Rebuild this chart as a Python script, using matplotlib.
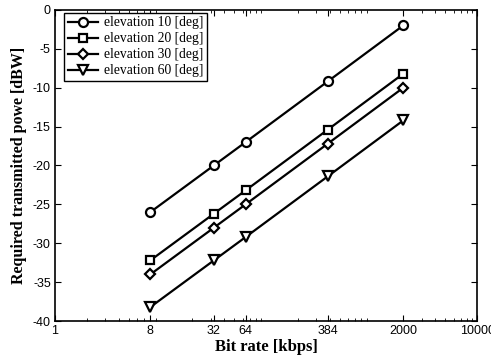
import matplotlib
matplotlib.use("Agg")
import matplotlib.pyplot as plt

# bit rates [kbps]
rates = [8, 32, 64, 384, 2000]

# required transmitted power [dBW] per elevation angle
elev10 = [-26.0, -20.0, -17.0, -9.2, -2.0]
elev20 = [-32.2, -26.2, -23.2, -15.4, -8.2]
elev30 = [-34.0, -28.0, -25.0, -17.2, -10.0]
elev60 = [-38.2, -32.2, -29.2, -21.4, -14.2]

xticks = [1, 8, 32, 64, 384, 2000, 10000]
yticks = [-40, -35, -30, -25, -20, -15, -10, -5, 0]

fig = plt.figure(figsize=(4.91, 3.62), dpi=100)
ax = fig.add_axes([0.112, 0.113, 0.86, 0.86])

series = [(elev10, "o", 6.5, "elevation 10 [deg]"),
          (elev20, "s", 5.5, "elevation 20 [deg]"),
          (elev30, "D", 5.0, "elevation 30 [deg]"),
          (elev60, "v", 7.0, "elevation 60 [deg]")]
for vals, mk, ms, lab in series:
    ax.plot(rates, vals, color="black", lw=1.6, marker=mk, ms=ms,
            mfc="white", mec="black", mew=1.6, label=lab)

ax.set_xscale("log")
ax.set_xlim(1, 10000)
ax.set_ylim(-40, 0)
ax.set_xticks(xticks)
ax.set_xticklabels([str(t) for t in xticks])
ax.set_yticks(yticks)
ax.set_yticklabels([str(t) for t in yticks])
ax.tick_params(which="both", direction="in", top=True, right=True,
               labelsize=9, labelfontfamily="Liberation Sans", pad=3)
ax.tick_params(which="major", length=4)
ax.tick_params(which="minor", length=2)
for s in ax.spines.values():
    s.set_linewidth(1.2)

ax.set_xlabel("Bit rate [kbps]", family="Liberation Serif", weight="bold",
              fontsize=12, labelpad=1)
ax.set_ylabel("Required transmitted powe [dBW]", family="Liberation Serif",
              weight="bold", fontsize=11.5, labelpad=4)

leg = ax.legend(loc="upper left", bbox_to_anchor=(0.022, 0.99),
                prop={"family": "Liberation Serif", "size": 9.8},
                fancybox=False, edgecolor="black", framealpha=1,
                borderaxespad=0.0, handlelength=2.2, labelspacing=0.22,
                borderpad=0.25, handletextpad=0.5)
leg.get_frame().set_linewidth(1.0)

fig.savefig("out.png", dpi=100)
